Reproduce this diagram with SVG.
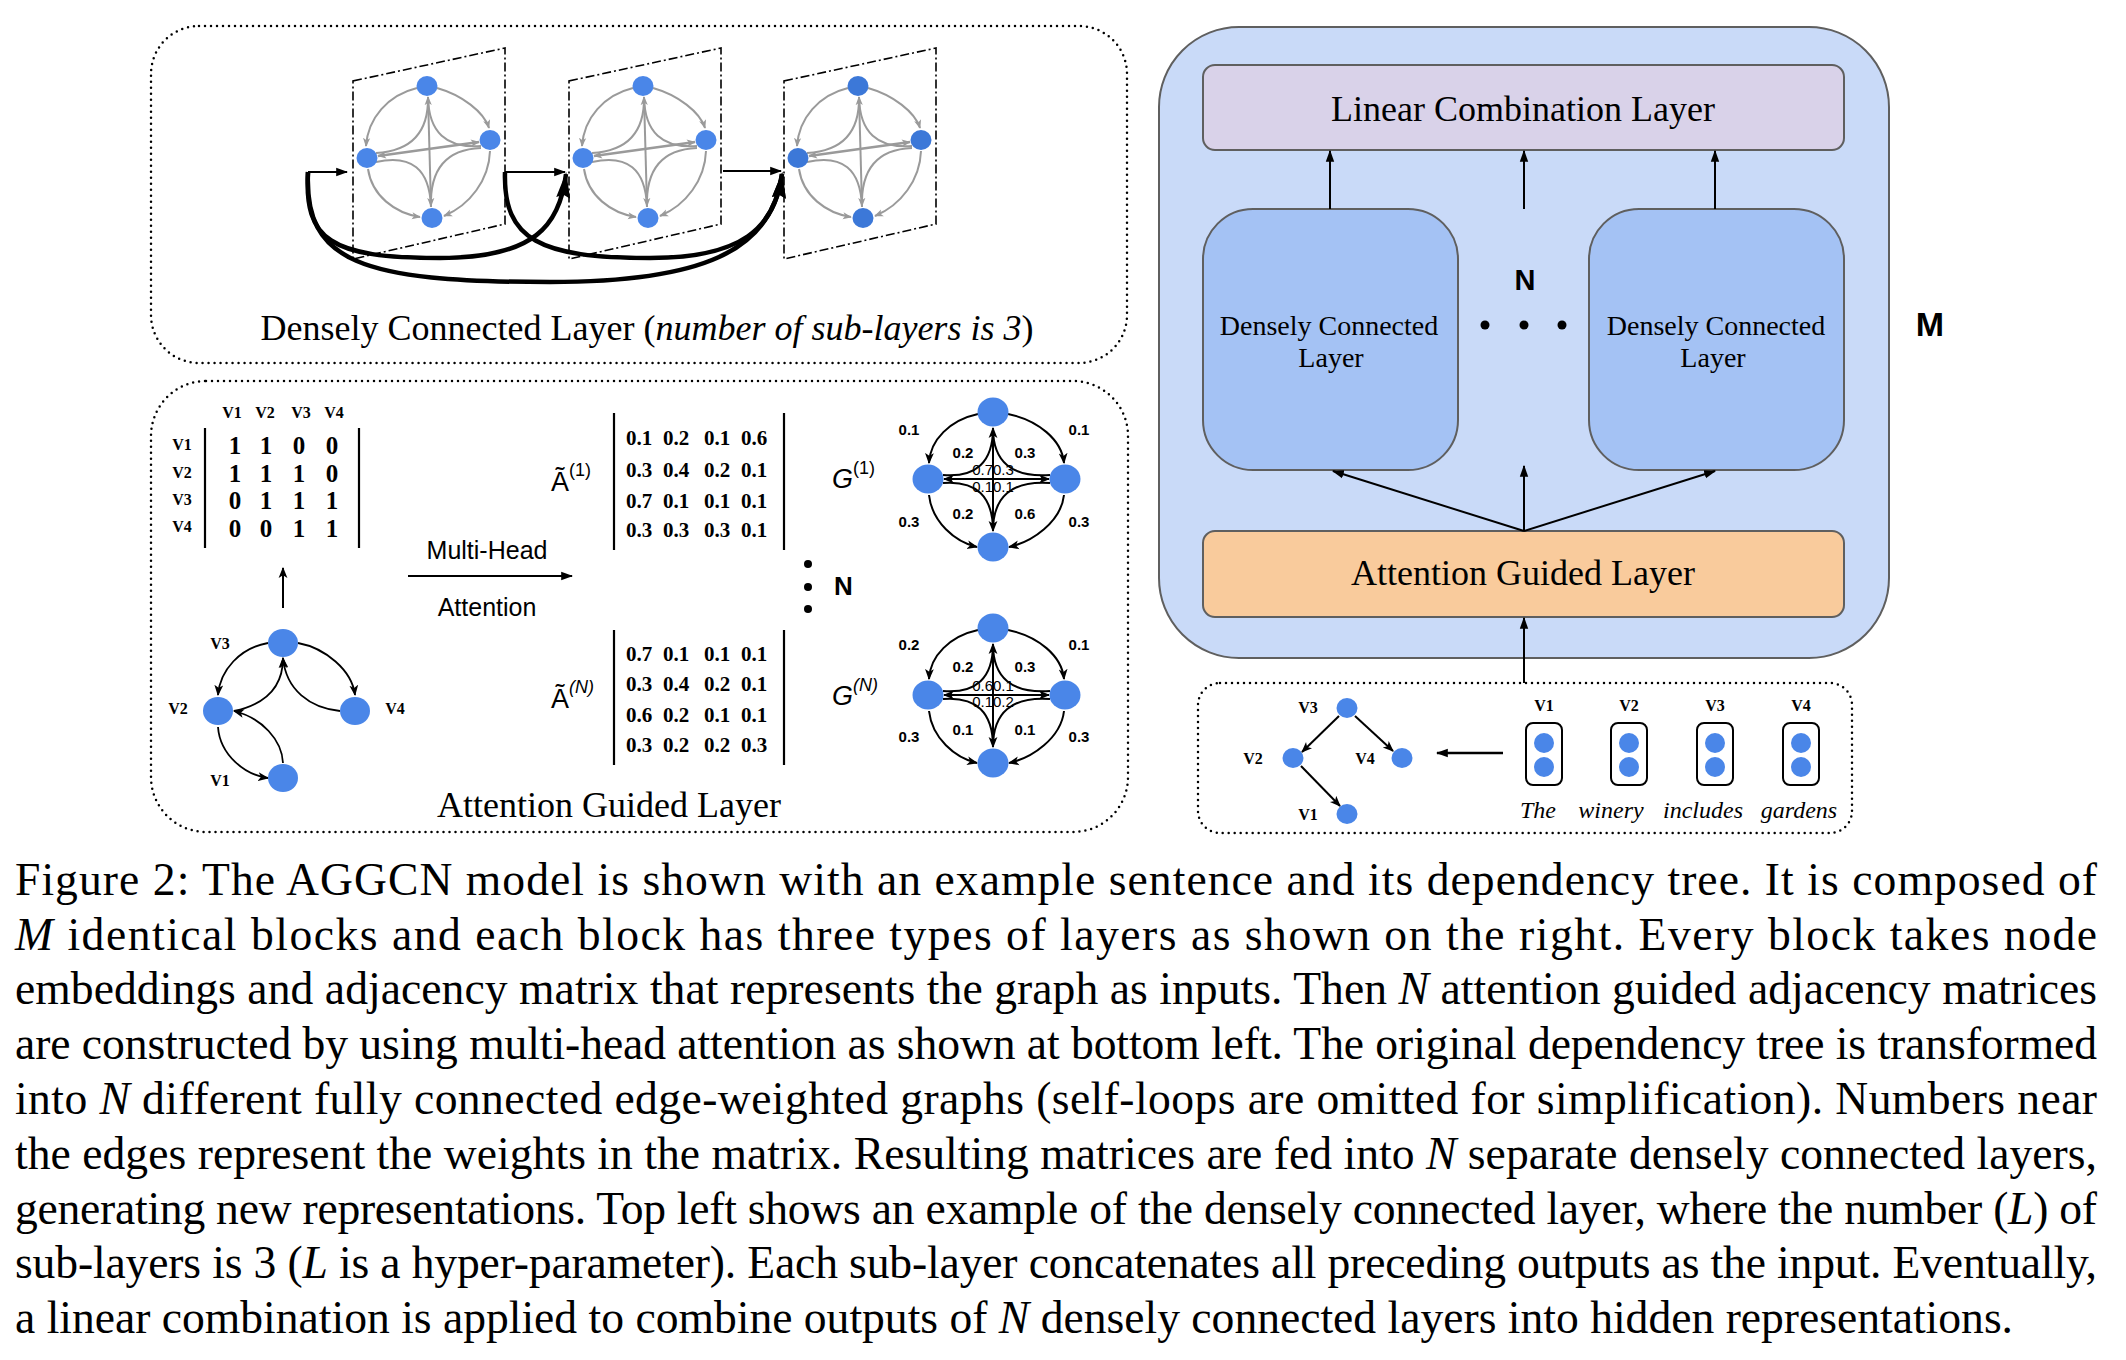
<svg xmlns="http://www.w3.org/2000/svg" xmlns:xlink="http://www.w3.org/1999/xlink" width="2126" height="1360" viewBox="0 0 2126 1360">
<style>
.serif{font-family:"Liberation Serif","Times New Roman",serif}
.sans{font-family:"Liberation Sans",Arial,sans-serif}
.dotbox{fill:none;stroke:#000;stroke-width:2.5;stroke-dasharray:0 6;stroke-linecap:round}
.panel{fill:none;stroke:#000;stroke-width:1.6;stroke-dasharray:9 3 2 3}
.gedge{fill:none;stroke:#9a9a9a;stroke-width:2}
.bedge{fill:none;stroke:#000;stroke-width:2}
.thick{fill:none;stroke:#000;stroke-width:4.5}
.node{fill:#4a86e8}
.lbl{font-family:"Liberation Sans",Arial,sans-serif;font-weight:bold;font-size:15px;text-anchor:middle}
.mid{font-family:"Liberation Sans",Arial,sans-serif;font-size:15px;text-anchor:middle}
.vl{font-family:"Liberation Serif",serif;font-weight:bold;font-size:16px;text-anchor:middle}
.mat{font-family:"Liberation Serif",serif;font-weight:bold;font-size:21px}
.adj{font-family:"Liberation Serif",serif;font-weight:bold;font-size:25px;text-anchor:middle}
.cap{font-family:"Liberation Serif","Times New Roman",serif;font-size:45.6px}
.box{stroke:#5f5f5f;stroke-width:2}
.word{font-family:"Liberation Serif",serif;font-style:italic;font-size:24px;text-anchor:middle}
</style>
<defs>
<marker id="ag" viewBox="0 0 10 10" refX="9" refY="5" markerWidth="9" markerHeight="9" markerUnits="userSpaceOnUse" orient="auto-start-reverse"><path d="M0,1 L10,5 L0,9 L2.5,5 z" fill="#9a9a9a"/></marker>
<marker id="ab" viewBox="0 0 10 10" refX="9" refY="5" markerWidth="11" markerHeight="11" markerUnits="userSpaceOnUse" orient="auto-start-reverse"><path d="M0,1 L10,5 L0,9 L2.5,5 z" fill="#000"/></marker>
<marker id="at" viewBox="0 0 10 10" refX="9" refY="5" markerWidth="12" markerHeight="12" markerUnits="userSpaceOnUse" orient="auto"><path d="M0,1.5 L10,5 L0,8.5 z" fill="#000"/></marker>
<marker id="abig" viewBox="0 0 26 14" refX="24" refY="7" markerWidth="26" markerHeight="14" markerUnits="userSpaceOnUse" orient="auto"><path d="M0,0 L26,7 L0,14 L3,7 z" fill="#000"/></marker>
<g id="sg">
<path class="gedge" d="M417,88 C388,95 368,118 366,146" marker-end="url(#ag)"/>
<path class="gedge" d="M437,88 C462,95 484,112 489,128" marker-end="url(#ag)"/>
<path class="gedge" d="M368,169 C372,196 395,213 420,217" marker-end="url(#ag)"/>
<path class="gedge" d="M490,151 C489,180 470,205 444,216" marker-end="url(#ag)"/>
<path class="gedge" d="M428,97 L431,206" marker-start="url(#ag)" marker-end="url(#ag)"/>
<path class="gedge" style="stroke-width:2.6" d="M378,156 L479,142" marker-start="url(#ag)" marker-end="url(#ag)"/>
<path class="gedge" d="M376,153 Q429,150 428,97"/>
<path class="gedge" d="M481,146 Q429,150 428,97"/>
<path class="gedge" d="M376,162 Q429,150 431,207"/>
<path class="gedge" d="M481,148 Q429,150 431,207"/>
<ellipse cx="427" cy="86" rx="10.5" ry="10"/>
<ellipse cx="490" cy="140" rx="10.5" ry="10"/>
<ellipse cx="367" cy="158" rx="10.5" ry="10"/>
<ellipse cx="432" cy="218" rx="10.5" ry="10"/>
</g>
<g id="ge">
<path class="bedge" d="M978,414 C950,420 930,440 929,463" marker-end="url(#ab)"/>
<path class="bedge" d="M1008,414 C1038,420 1062,440 1064,463" marker-end="url(#ab)"/>
<path class="bedge" d="M929,495 C932,522 955,542 977,547" marker-end="url(#ab)"/>
<path class="bedge" d="M1064,495 C1061,522 1032,542 1009,547" marker-end="url(#ab)"/>
<path class="bedge" d="M993,428 L993,531" marker-start="url(#ab)" marker-end="url(#ab)"/>
<path class="bedge" d="M944,479 L1049,479" marker-start="url(#ab)" marker-end="url(#ab)"/>
<path class="bedge" d="M943,475 Q993,479 993,428"/>
<path class="bedge" d="M1050,475 Q993,479 993,428"/>
<path class="bedge" d="M943,483 Q993,479 993,531"/>
<path class="bedge" d="M1050,483 Q993,479 993,531"/>
<ellipse class="node" cx="993" cy="412" rx="15.5" ry="14.5"/>
<ellipse class="node" cx="928" cy="479" rx="15.5" ry="14.5"/>
<ellipse class="node" cx="1065" cy="479" rx="15.5" ry="14.5"/>
<ellipse class="node" cx="993" cy="547" rx="15.5" ry="14.5"/>
</g>
</defs>

<rect width="2126" height="1360" fill="#fff"/>

<!-- Top-left: densely connected layer -->
<g id="dense-example">
<rect class="dotbox" x="151" y="26" width="976" height="337" rx="48"/>
<path class="panel" d="M353,81 L505,48 L505,224 L353,259 Z"/>
<path class="panel" d="M569,81 L721,48 L721,224 L569,259 Z"/>
<path class="panel" d="M784,81 L936,48 L936,224 L784,259 Z"/>
<g id="sublayer1"><use href="#sg" fill="#4a86e8"/></g>
<g id="sublayer2"><use href="#sg" transform="translate(216,0)" fill="#4a86e8"/></g>
<g id="sublayer3"><use href="#sg" transform="translate(431,0)" fill="#3c78d8"/></g>
<g id="skip-connectors">
<path class="bedge" d="M308,172 L347,172" marker-end="url(#at)"/>
<path class="bedge" d="M505,172 L565,172" marker-end="url(#at)"/>
<path class="bedge" d="M723,171 L781,171" marker-end="url(#at)"/>
<path class="thick" d="M308,172 C304,240 330,258 440,258 C535,258 560,225 566,174" marker-end="url(#abig)"/>
<path class="thick" d="M308,172 C304,262 360,282 550,282 C700,282 772,252 782,174" marker-end="url(#abig)"/>
<path class="thick" d="M505,172 C503,240 540,258 650,258 C742,258 775,228 782,174" marker-end="url(#abig)"/>
</g>
<text class="serif" x="647" y="340" font-size="36" text-anchor="middle">Densely Connected Layer (<tspan font-style="italic">number of sub-layers is 3</tspan>)</text>
</g>

<!-- Bottom-left: attention guided layer -->
<g id="attention-example">
<rect class="dotbox" x="151" y="381" width="977" height="451" rx="55"/>
<g id="adj-matrix">
<text class="vl" x="232" y="418">V1</text><text class="vl" x="265" y="418">V2</text><text class="vl" x="301" y="418">V3</text><text class="vl" x="334" y="418">V4</text>
<text class="vl" x="182" y="450">V1</text><text class="vl" x="182" y="478">V2</text><text class="vl" x="182" y="505">V3</text><text class="vl" x="182" y="532">V4</text>
<path d="M205,428 V548 M359,428 V548" stroke="#000" stroke-width="2.2" fill="none"/>
<g class="adj">
<text x="235" y="454">1</text><text x="266" y="454">1</text><text x="299" y="454">0</text><text x="332" y="454">0</text>
<text x="235" y="482">1</text><text x="266" y="482">1</text><text x="299" y="482">1</text><text x="332" y="482">0</text>
<text x="235" y="509">0</text><text x="266" y="509">1</text><text x="299" y="509">1</text><text x="332" y="509">1</text>
<text x="235" y="537">0</text><text x="266" y="537">0</text><text x="299" y="537">1</text><text x="332" y="537">1</text>
</g>
</g>
<path class="bedge" d="M283,608 L283,568" marker-end="url(#ab)"/>
<text class="sans" x="487" y="559" font-size="25" text-anchor="middle">Multi-Head</text>
<path class="bedge" d="M408,576 L572,576" marker-end="url(#at)"/>
<text class="sans" x="487" y="616" font-size="25" text-anchor="middle">Attention</text>

<g id="dep-graph">
<path class="bedge" style="stroke-width:1.8" d="M268,643 C240,648 220,670 218,695" marker-end="url(#ab)"/>
<path class="bedge" style="stroke-width:1.8" d="M298,643 C325,648 352,670 355,695" marker-end="url(#ab)"/>
<path class="bedge" style="stroke-width:1.8" d="M234,711 C262,705 283,690 283,658" marker-end="url(#ab)"/>
<path class="bedge" style="stroke-width:1.8" d="M340,711 C310,708 286,690 283,658" marker-end="url(#ab)"/>
<path class="bedge" style="stroke-width:1.8" d="M218,727 C220,755 245,775 268,778" marker-end="url(#ab)"/>
<path class="bedge" style="stroke-width:1.8" d="M283,763 C282,740 262,718 234,711" marker-end="url(#ab)"/>
<g id="dg-v3"><ellipse class="node" cx="283" cy="643" rx="15" ry="14"/><text class="vl" x="220" y="649">V3</text></g>
<g id="dg-v2"><ellipse class="node" cx="218" cy="711" rx="15" ry="14"/><text class="vl" x="178" y="714">V2</text></g>
<g id="dg-v4"><ellipse class="node" cx="355" cy="711" rx="15" ry="14"/><text class="vl" x="395" y="714">V4</text></g>
<g id="dg-v1"><ellipse class="node" cx="283" cy="778" rx="15" ry="14"/><text class="vl" x="220" y="786">V1</text></g>
</g>

<g id="matrix-1">
<text class="sans" x="551" y="491" font-size="27">Ã<tspan font-size="18" dy="-15">(1)</tspan></text>
<path d="M614,413 V550 M784,413 V550" stroke="#000" stroke-width="2.2" fill="none"/>
<g class="mat">
<text x="626" y="445">0.1</text><text x="663" y="445">0.2</text><text x="704" y="445">0.1</text><text x="741" y="445">0.6</text>
<text x="626" y="477">0.3</text><text x="663" y="477">0.4</text><text x="704" y="477">0.2</text><text x="741" y="477">0.1</text>
<text x="626" y="508">0.7</text><text x="663" y="508">0.1</text><text x="704" y="508">0.1</text><text x="741" y="508">0.1</text>
<text x="626" y="537">0.3</text><text x="663" y="537">0.3</text><text x="704" y="537">0.3</text><text x="741" y="537">0.1</text>
</g>
</g>
<g id="matrix-n">
<text class="sans" x="551" y="708" font-size="27">Ã<tspan font-size="18" font-style="italic" dy="-15">(N)</tspan></text>
<path d="M614,630 V765 M784,630 V765" stroke="#000" stroke-width="2.2" fill="none"/>
<g class="mat">
<text x="626" y="661">0.7</text><text x="663" y="661">0.1</text><text x="704" y="661">0.1</text><text x="741" y="661">0.1</text>
<text x="626" y="691">0.3</text><text x="663" y="691">0.4</text><text x="704" y="691">0.2</text><text x="741" y="691">0.1</text>
<text x="626" y="722">0.6</text><text x="663" y="722">0.2</text><text x="704" y="722">0.1</text><text x="741" y="722">0.1</text>
<text x="626" y="752">0.3</text><text x="663" y="752">0.2</text><text x="704" y="752">0.2</text><text x="741" y="752">0.3</text>
</g>
</g>
<g id="n-dots">
<circle cx="808" cy="564" r="4"/><circle cx="808" cy="587" r="4"/><circle cx="808" cy="609" r="4"/>
<text class="sans" x="834" y="595" font-size="26" font-weight="bold">N</text>
</g>
<g id="graph-1">
<text class="sans" x="832" y="488" font-size="27" font-style="italic">G<tspan font-size="18" font-style="normal" dy="-14">(1)</tspan></text>
<use href="#ge"/>
<g class="lbl">
<text x="909" y="435">0.1</text><text x="1079" y="435">0.1</text>
<text x="963" y="458">0.2</text><text x="1025" y="458">0.3</text>
<text x="963" y="519">0.2</text><text x="1025" y="519">0.6</text>
<text x="909" y="527">0.3</text><text x="1079" y="527">0.3</text>
</g>
<text class="mid" x="993" y="475">0.70.3</text>
<text class="mid" x="993" y="492">0.10.1</text>
</g>
<g id="graph-n">
<text class="sans" x="832" y="705" font-size="27" font-style="italic">G<tspan font-size="18" dy="-14">(N)</tspan></text>
<use href="#ge" transform="translate(0,216)"/>
<g class="lbl">
<text x="909" y="650">0.2</text><text x="1079" y="650">0.1</text>
<text x="963" y="672">0.2</text><text x="1025" y="672">0.3</text>
<text x="963" y="735">0.1</text><text x="1025" y="735">0.1</text>
<text x="909" y="742">0.3</text><text x="1079" y="742">0.3</text>
</g>
<text class="mid" x="993" y="691">0.60.1</text>
<text class="mid" x="993" y="707">0.10.2</text>
</g>
<text class="serif" x="609" y="817" font-size="36" text-anchor="middle">Attention Guided Layer</text>
</g>

<!-- Right: AGGCN block -->
<g id="block-m">
<rect class="box" x="1159" y="27" width="730" height="631" rx="80" fill="#c9daf8"/>
<text class="sans" x="1930" y="336" font-size="34" font-weight="bold" text-anchor="middle">M</text>
</g>
<g id="linear-layer">
<rect class="box" x="1203" y="65" width="641" height="85" rx="12" fill="#d9d2e9"/>
<text class="serif" x="1523" y="121" font-size="36" text-anchor="middle">Linear Combination Layer</text>
</g>
<g id="dense-layer-1">
<rect class="box" x="1203" y="209" width="255" height="261" rx="50" fill="#a4c2f4"/>
<text class="serif" x="1329" y="335" font-size="28" text-anchor="middle">Densely Connected</text>
<text class="serif" x="1331" y="367" font-size="28" text-anchor="middle">Layer</text>
</g>
<g id="dense-layer-n">
<rect class="box" x="1589" y="209" width="255" height="261" rx="50" fill="#a4c2f4"/>
<text class="serif" x="1716" y="335" font-size="28" text-anchor="middle">Densely Connected</text>
<text class="serif" x="1713" y="367" font-size="28" text-anchor="middle">Layer</text>
</g>
<g id="n-ellipsis">
<text class="sans" x="1525" y="290" font-size="29" font-weight="bold" text-anchor="middle">N</text>
<circle cx="1485" cy="325" r="4.5"/><circle cx="1524" cy="325" r="4.5"/><circle cx="1562" cy="325" r="4.5"/>
</g>
<g id="attention-layer">
<rect class="box" x="1203" y="531" width="641" height="86" rx="12" fill="#f9cb9c"/>
<text class="serif" x="1523" y="585" font-size="36" text-anchor="middle">Attention Guided Layer</text>
</g>
<g id="input">
<rect class="dotbox" x="1198" y="683" width="654" height="150" rx="22"/>
<g id="tree">
<path class="bedge" d="M1339,716 L1302,752" marker-end="url(#ab)"/>
<path class="bedge" d="M1355,716 L1393,751" marker-end="url(#ab)"/>
<path class="bedge" d="M1301,766 L1340,806" marker-end="url(#ab)"/>
<ellipse class="node" cx="1347" cy="708" rx="10.5" ry="10"/>
<ellipse class="node" cx="1293" cy="758" rx="10.5" ry="10"/>
<ellipse class="node" cx="1402" cy="758" rx="10.5" ry="10"/>
<ellipse class="node" cx="1347" cy="814" rx="10.5" ry="10"/>
<text class="vl" x="1308" y="713">V3</text><text class="vl" x="1253" y="764">V2</text><text class="vl" x="1365" y="764">V4</text><text class="vl" x="1308" y="820">V1</text>
</g>
<path class="bedge" style="stroke-width:2.6" d="M1503,753 L1437,753" marker-end="url(#at)"/>
<g id="w1"><rect x="1526" y="723" width="36" height="62" rx="7" fill="none" stroke="#000" stroke-width="2"/><circle class="node" cx="1544" cy="743" r="10"/><circle class="node" cx="1544" cy="767" r="10"/><text class="vl" x="1544" y="711">V1</text><text class="word" x="1538" y="818">The</text></g>
<g id="w2"><rect x="1611" y="723" width="36" height="62" rx="7" fill="none" stroke="#000" stroke-width="2"/><circle class="node" cx="1629" cy="743" r="10"/><circle class="node" cx="1629" cy="767" r="10"/><text class="vl" x="1629" y="711">V2</text><text class="word" x="1611" y="818">winery</text></g>
<g id="w3"><rect x="1697" y="723" width="36" height="62" rx="7" fill="none" stroke="#000" stroke-width="2"/><circle class="node" cx="1715" cy="743" r="10"/><circle class="node" cx="1715" cy="767" r="10"/><text class="vl" x="1715" y="711">V3</text><text class="word" x="1703" y="818">includes</text></g>
<g id="w4"><rect x="1783" y="723" width="36" height="62" rx="7" fill="none" stroke="#000" stroke-width="2"/><circle class="node" cx="1801" cy="743" r="10"/><circle class="node" cx="1801" cy="767" r="10"/><text class="vl" x="1801" y="711">V4</text><text class="word" x="1799" y="818">gardens</text></g>
</g>
<g id="connectors">
<path class="bedge" d="M1330,209 L1330,151" marker-end="url(#at)"/>
<path class="bedge" d="M1524,209 L1524,151" marker-end="url(#at)"/>
<path class="bedge" d="M1715,209 L1715,151" marker-end="url(#at)"/>
<path class="bedge" d="M1524,531 L1333,471" marker-end="url(#at)"/>
<path class="bedge" d="M1524,531 L1524,466" marker-end="url(#at)"/>
<path class="bedge" d="M1524,531 L1715,471" marker-end="url(#at)"/>
<path class="bedge" d="M1524,683 L1524,618" marker-end="url(#at)"/>
</g>

<!-- Caption -->
<g id="caption" class="cap">
<text x="15" y="895" textLength="2082" lengthAdjust="spacing">Figure 2:  The AGGCN model is shown with an example sentence and its dependency tree.  It is composed of</text>
<text x="15" y="950" textLength="2082" lengthAdjust="spacing"><tspan font-style="italic">M</tspan> identical blocks and each block has three types of layers as shown on the right.  Every block takes node</text>
<text x="15" y="1004" textLength="2082" lengthAdjust="spacing">embeddings and adjacency matrix that represents the graph as inputs. Then <tspan font-style="italic">N</tspan> attention guided adjacency matrices</text>
<text x="15" y="1059" textLength="2082" lengthAdjust="spacing">are constructed by using multi-head attention as shown at bottom left. The original dependency tree is transformed</text>
<text x="15" y="1114" textLength="2082" lengthAdjust="spacing">into <tspan font-style="italic">N</tspan> different fully connected edge-weighted graphs (self-loops are omitted for simplification).  Numbers near</text>
<text x="15" y="1169" textLength="2082" lengthAdjust="spacing">the edges represent the weights in the matrix. Resulting matrices are fed into <tspan font-style="italic">N</tspan> separate densely connected layers,</text>
<text x="15" y="1224" textLength="2082" lengthAdjust="spacing">generating new representations.  Top left shows an example of the densely connected layer, where the number (<tspan font-style="italic">L</tspan>) of</text>
<text x="15" y="1278" textLength="2082" lengthAdjust="spacing">sub-layers is 3 (<tspan font-style="italic">L</tspan> is a hyper-parameter). Each sub-layer concatenates all preceding outputs as the input. Eventually,</text>
<text x="15" y="1333">a linear combination is applied to combine outputs of <tspan font-style="italic">N</tspan> densely connected layers into hidden representations.</text>
</g>
</svg>
